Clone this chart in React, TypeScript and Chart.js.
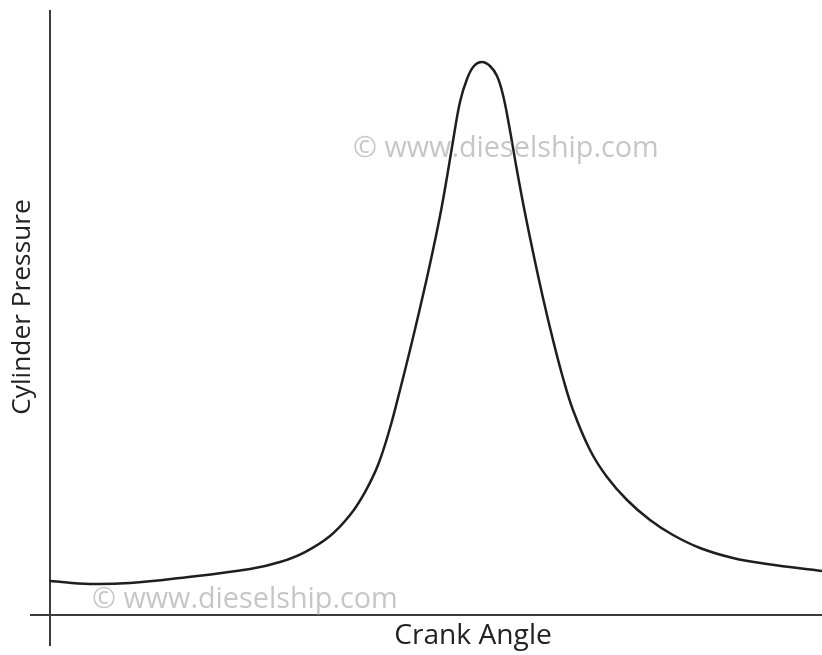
import React, { useEffect, useRef } from "react";
import { Chart, registerables } from "chart.js";

Chart.register(...registerables);

// Crank angle (deg, arbitrary origin at the y-axis)
const crankAngle = [
  0, 18.65, 37.31, 60.62, 93.26, 107.25, 118.91, 130.57, 139.9, 146.89, 152.95,
  158.55, 163.21, 167.88, 172.54, 177.2, 181.86, 185.13, 187.93, 191.19, 194.46,
  197.72, 201.45, 205.18, 208.45, 211.24, 214.04, 217.31, 221.04, 225.23, 229.9,
  234.56, 239.22, 243.88, 251.81, 259.74, 269.07, 279.79, 290.52, 303.11, 318.5,
  334.35, 360,
];
// Cylinder pressure (relative, peak = 100)
const cylinderPressure = [
  6.15, 5.61, 5.79, 6.69, 8.32, 9.58, 11.39, 14.29, 18.08, 22.24, 27.12, 33.82,
  40.69, 47.92, 55.52, 63.47, 72.15, 79.2, 85.71, 92.77, 96.93, 99.28, 100,
  99.28, 97.47, 94.03, 88.61, 81.37, 73.6, 65.64, 57.32, 49.73, 42.86, 37.07,
  29.84, 24.95, 20.8, 17.18, 14.47, 12.12, 10.31, 9.22, 7.96,
];

const xTitle = "Crank Angle";
const yTitle = "Cylinder Pressure";
const watermark = "© www.dieselship.com";

const xRange = { min: -9.33, max: 360 };
const yRange = { min: -5.6, max: 109.4 };

const textPlugin = {
  id: "texts",
  afterDraw(chart: any) {
    const ctx = chart.ctx;
    ctx.save();
    // watermarks
    ctx.fillStyle = "rgba(160,160,160,0.6)";
    ctx.font = "28.8px 'Open Sans'";
    ctx.textBaseline = "middle";
    ctx.textAlign = "left";
    ctx.fillText(watermark, 353, 149);
    ctx.fillText(watermark, 92, 600);
    // x title
    ctx.fillStyle = "#222";
    ctx.font = "28.2px 'Open Sans'";
    ctx.textAlign = "center";
    ctx.fillText(xTitle, 473, 636);
    // y title
    ctx.font = "26.3px 'Open Sans'";
    ctx.translate(23, 307);
    ctx.rotate(-Math.PI / 2);
    ctx.fillText(yTitle, 0, 0);
    ctx.restore();
  },
};

export default function App() {
  const ref = useRef<HTMLCanvasElement>(null);
  useEffect(() => {
    if (!ref.current) return;
    const zeroOnly = (scale: any) => {
      scale.ticks = [{ value: 0 }];
    };
    const chart = new Chart(ref.current, {
      type: "line",
      data: {
        datasets: [
          {
            data: crankAngle.map((x, i) => ({ x, y: cylinderPressure[i] })),
            borderColor: "#1e1e1e",
            borderWidth: 2.5,
            pointRadius: 0,
            tension: 0.4,
            fill: false,
          },
        ],
      },
      options: {
        responsive: false,
        animation: false,
        layout: { padding: { left: 30, top: 10, right: 0, bottom: 9 } },
        plugins: { legend: { display: false }, tooltip: { enabled: false } },
        scales: {
          x: {
            type: "linear",
            min: xRange.min,
            max: xRange.max,
            afterBuildTicks: zeroOnly,
            ticks: { display: false },
            border: { display: false },
            grid: { drawTicks: false, color: "#3c3c3c", lineWidth: 2 },
          },
          y: {
            type: "linear",
            min: yRange.min,
            max: yRange.max,
            afterBuildTicks: zeroOnly,
            ticks: { display: false },
            border: { display: false },
            grid: { drawTicks: false, color: "#3c3c3c", lineWidth: 2 },
          },
        },
      },
      plugins: [textPlugin],
    } as any);
    return () => chart.destroy();
  }, []);
  return (
    <div style={{ position: "absolute", left: 0, top: 0, width: 822, height: 655, background: "#fff" }}>
      <canvas ref={ref} width={822} height={655} />
    </div>
  );
}
